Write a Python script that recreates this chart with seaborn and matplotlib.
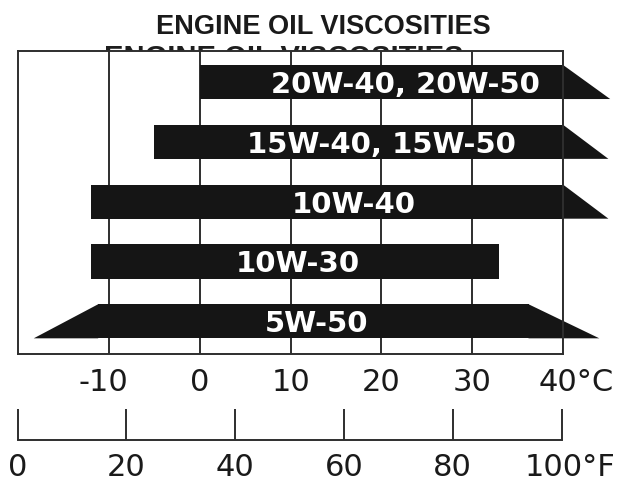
import matplotlib
matplotlib.use("Agg")
import matplotlib.pyplot as plt
import matplotlib.transforms as mtransforms
import seaborn as sns
import pandas as pd

# ---- data (°C) ----
grades = ["20W-40, 20W-50", "15W-40, 15W-50", "10W-40", "10W-30", "5W-50"]
low_top = [0, -5, -12, -12, -11.2]        # left end at top edge of bar
low_bottom = [0, -5, -12, -12, -18.3]     # left end at bottom edge of bar
high_top = [40, 40, 40, 33, 36.2]         # right end at top edge of bar
high_bottom = [45.2, 45, 45, 33, 44]      # right end at bottom edge of bar

celsius_ticks = [-10, 0, 10, 20, 30, 40]
celsius_labels = ["-10", "0", "10", "20", "30", "40°C"]
fahrenheit_ticks = [0, 20, 40, 60, 80, 100]
fahrenheit_labels = ["0", "20", "40", "60", "80", "100°F"]

title = "ENGINE OIL VISCOSITIES"

# ---- layout / style ----
label_x = [22.6, 20.0, 16.9, 10.8, 12.8]
BAR_COLOR = "#151515"
LINE_COLOR = "#2e2e2e"
W, H = 620, 484

sns.set_style("white")
plt.rcParams["font.family"] = ["DejaVu Sans"]

fig = plt.figure(figsize=(W / 100, H / 100), dpi=100)
fig.patch.set_facecolor("white")

# main axes box
x0, x1 = 18.3, 563.0
ytop, ybot = 51.0, 354.0
ax = fig.add_axes([x0 / W, 1 - ybot / H, (x1 - x0) / W, (ybot - ytop) / H])

df = pd.DataFrame({
    "grade": grades,
    "width": [ht - lt for ht, lt in zip(high_top, low_top)],
})
bar_h = 0.57
sns.barplot(data=df, x="width", y="grade", orient="h", color=BAR_COLOR,
            saturation=1, width=bar_h, left=low_top, errorbar=None,
            linewidth=0, ax=ax, zorder=2)

# slanted end caps
for i in range(len(grades)):
    top, bot = i - bar_h / 2, i + bar_h / 2
    if high_bottom[i] != high_top[i]:
        ax.fill([high_top[i], high_bottom[i], high_top[i]], [top, bot, bot],
                color=BAR_COLOR, lw=0, clip_on=False, zorder=2)
    if low_bottom[i] != low_top[i]:
        ax.fill([low_top[i], low_bottom[i], low_top[i]], [top, bot, bot],
                color=BAR_COLOR, lw=0, clip_on=False, zorder=2)
    ax.text(label_x[i], i, grades[i], color="white", fontsize=21,
            fontweight="bold", ha="center", va="center_baseline", zorder=3)

ax.set_xlim(-20, 40)
ax.set_ylim(4.547, -0.518)
ax.set_xticks(celsius_ticks)
ax.set_xticklabels(celsius_labels)
ax.set_yticks([])
ax.set_xlabel("")
ax.set_ylabel("")
ax.set_axisbelow(True)
ax.grid(axis="x", color=LINE_COLOR, lw=1.4)
ax.grid(axis="y", visible=False)
ax.tick_params(axis="x", length=0, pad=10, labelsize=22, labelcolor="#1a1a1a")
for s in ax.spines.values():
    s.set_visible(True)
    s.set_color(LINE_COLOR)
    s.set_linewidth(1.4)


def shift_label(lab, ha, dx_px):
    lab.set_horizontalalignment(ha)
    lab.set_transform(lab.get_transform() +
                      mtransforms.ScaledTranslation(dx_px / 100, 0, fig.dpi_scale_trans))


clabs = ax.get_xticklabels()
shift_label(clabs[0], "right", 19)    # "-10": number centred on tick
shift_label(clabs[-1], "left", -24)   # "40°C"

# Fahrenheit scale
fx0, fx1, fy = 17.5, 561.5, 440.0
fa = fig.add_axes([fx0 / W, 1 - fy / H, (fx1 - fx0) / W, 40 / H])
fa.patch.set_alpha(0)
fa.set_xlim(0, 100)
fa.set_yticks([])
fa.set_xticks(fahrenheit_ticks)
fa.set_xticklabels(fahrenheit_labels)
for k in ["top", "left", "right"]:
    fa.spines[k].set_visible(False)
fa.spines["bottom"].set_color(LINE_COLOR)
fa.spines["bottom"].set_linewidth(1.4)
fa.tick_params(axis="x", bottom=True, direction="in", length=22.3, width=1.4,
               color=LINE_COLOR, pad=9, labelsize=22, labelcolor="#1a1a1a")
flabs = fa.get_xticklabels()
shift_label(flabs[-1], "left", -37)   # "100°F"

# titles
fig.text(284 / W, 1 - 66 / H, title, ha="center", va="baseline",
         family=["Liberation Sans", "DejaVu Sans"], fontweight="bold",
         fontsize=21, color="#1e1e1e", zorder=-1)
fig.text(323 / W, 1 - 34 / H, title, ha="center", va="baseline",
         family=["Liberation Sans", "DejaVu Sans"], fontweight="bold",
         fontsize=19.5, color="#1a1a1a")

fig.savefig("out.png", dpi=100, facecolor="white")
